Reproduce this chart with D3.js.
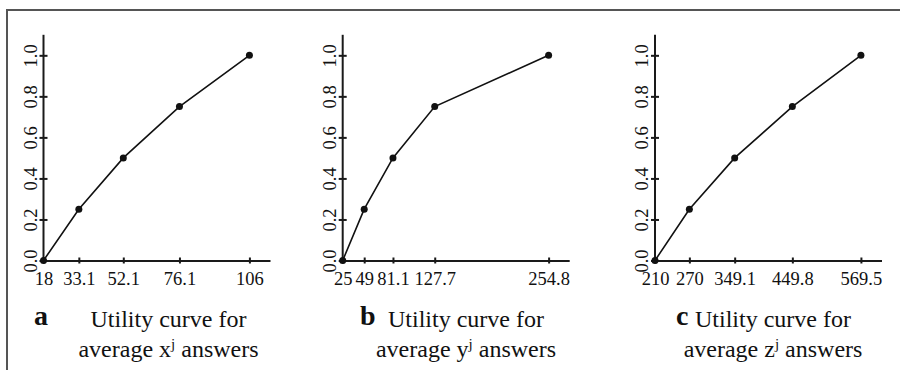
<!DOCTYPE html>
<html>
<head>
<meta charset="utf-8">
<script src="https://cdn.jsdelivr.net/npm/d3@7"></script>
<style>
  html, body { margin: 0; padding: 0; background: #fff; }
  svg { display: block; }
  text { font-family: 'Liberation Serif', 'Times New Roman', serif; fill: #111; }
  .axis path, .axis line { stroke: #1a1a1a; stroke-width: 2; }
  .axis text { font-size: 18.5px; }
  .curve { fill: none; stroke: #111; stroke-width: 1.6; }
  .dot { fill: #111; }
</style>
</head>
<body>
<script>
'use strict'

// utility levels shared by the three curves
const utilityLevels = [0, 0.25, 0.5, 0.75, 1]
const yTickValues = [0, 0.2, 0.4, 0.6, 0.8, 1.0]

// average answers at each utility level
const xAnswers = [18, 33.1, 52.1, 76.1, 106]
const yAnswers = [25, 49, 81.1, 127.7, 254.8]
const zAnswers = [210, 270, 349.1, 449.8, 569.5]

const panelLetters = ['a', 'b', 'c']
const variableNames = ['x', 'y', 'z']
const captionLine1 = 'Utility curve for'

const series = [xAnswers, yAnswers, zAnswers]

const width = 900
const height = 370

const svg = d3.select('body').append('svg')
  .attr('width', width)
  .attr('height', height)

// frame, only the top and left edges fall inside the picture
svg.append('rect')
  .attr('x', 7)
  .attr('y', 10)
  .attr('width', 1000)
  .attr('height', 1000)
  .attr('fill', 'none')
  .attr('stroke', '#555')
  .attr('stroke-width', 2)

const panelLeft = [43.5, 342.7, 655]
const panelWidth = 226.5
const plotTop = 34.8
const plotBottom = 260.5
const captionCenter = [168.5, 466, 773]
const letterX = [34, 360, 676]

const scaleY = d3.scaleLinear()
  .domain([0, 1.1])
  .range([plotBottom, plotTop])

series.forEach(function (values, i) {
  const xMin = d3.min(values)
  const xMax = d3.max(values)
  const scaleX = d3.scaleLinear()
    .domain([xMin, xMin + 1.1 * (xMax - xMin)])
    .range([0, panelWidth])

  const g = svg.append('g')
    .attr('transform', 'translate(' + panelLeft[i] + ',0)')

  const axisX = d3.axisBottom(scaleX)
    .tickValues(values)
    .tickFormat(function (d) { return String(d) })
    .tickSizeInner(3)
    .tickSizeOuter(0)
  const gx = g.append('g')
    .attr('class', 'axis x')
    .attr('transform', 'translate(0,' + plotBottom + ')')
    .call(axisX)
  gx.selectAll('.tick line').attr('y1', -3)
  gx.selectAll('.tick text')
    .attr('y', 24.5)
    .attr('dy', null)

  const axisY = d3.axisLeft(scaleY)
    .tickValues(yTickValues)
    .tickFormat(d3.format('.1f'))
    .tickSizeInner(4)
    .tickSizeOuter(0)
  const gy = g.append('g')
    .attr('class', 'axis y')
    .call(axisY)
  gy.selectAll('.tick line').attr('x1', 4)
  gy.selectAll('.tick text')
    .attr('x', null)
    .attr('dy', null)
    .attr('text-anchor', 'middle')
    .attr('transform', 'translate(-7,0) rotate(-90)')
  gy.select('.domain').attr('d', 'M0,' + plotTop + 'V' + plotBottom)

  const points = values.map(function (v, k) { return [v, utilityLevels[k]] })
  const line = d3.line()
    .x(function (d) { return scaleX(d[0]) })
    .y(function (d) { return scaleY(d[1]) })
  g.append('path')
    .attr('class', 'curve')
    .attr('d', line(points))
  g.selectAll('circle')
    .data(points)
    .enter()
    .append('circle')
    .attr('class', 'dot')
    .attr('cx', function (d) { return scaleX(d[0]) })
    .attr('cy', function (d) { return scaleY(d[1]) })
    .attr('r', 3.5)

  // caption
  svg.append('text')
    .attr('x', letterX[i])
    .attr('y', 325)
    .attr('font-size', 28)
    .attr('font-weight', 'bold')
    .text(panelLetters[i])
  svg.append('text')
    .attr('x', captionCenter[i])
    .attr('y', 327)
    .attr('font-size', 24)
    .attr('text-anchor', 'middle')
    .text(captionLine1)
  const line2 = svg.append('text')
    .attr('x', captionCenter[i])
    .attr('y', 357)
    .attr('font-size', 24)
    .attr('text-anchor', 'middle')
  line2.append('tspan').text('average ' + variableNames[i])
  line2.append('tspan')
    .attr('font-size', 15)
    .attr('dy', -8)
    .text('j')
  line2.append('tspan')
    .attr('dy', 8)
    .text(' answers')
})
</script>
</body>
</html>
